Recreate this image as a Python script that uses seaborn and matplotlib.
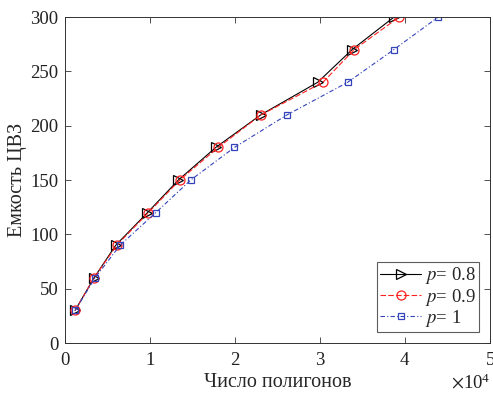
import matplotlib
matplotlib.use("Agg")
import matplotlib.pyplot as plt
import seaborn as sns
import pandas as pd

capacity = [30, 60, 90, 120, 150, 180, 210, 240, 270, 300]
poly_p08 = [1180, 3410, 5960, 9690, 13330, 17730, 23020, 29730, 33760, 38700]
poly_p09 = [1180, 3410, 6080, 9800, 13490, 18000, 23060, 30350, 34000, 39300]
poly_p1 = [1180, 3530, 6470, 10670, 14780, 19920, 26120, 33260, 38670, 43900]
labels = ["$p$= 0.8", "$p$= 0.9", "$p$= 1"]

sns.set_theme(style="ticks")
plt.rcParams['font.family'] = ['Liberation Serif', 'DejaVu Serif']
plt.rcParams['mathtext.fontset'] = 'stix'

fig = plt.figure(figsize=(4.93, 3.97), dpi=100)
ax = fig.add_axes([0.132, 0.136, 0.862, 0.821])

series = [
    (poly_p08, labels[0], "black", "-", ">"),
    (poly_p09, labels[1], "#ff2020", (0, (5, 2)), "o"),
    (poly_p1, labels[2], "#3344bb", (0, (4, 2, 1, 2)), "s"),
]
for xs, lab, col, ls, mk in series:
    df = pd.DataFrame({"x": xs, "y": capacity})
    sns.lineplot(data=df, x="x", y="y", ax=ax, sort=False, color=col,
                 linestyle=ls, linewidth=0.8, marker=mk, markersize=6.5 if mk != "s" else 5,
                 markerfacecolor="none", markeredgecolor=col, markeredgewidth=0.9,
                 label=lab)

ax.set_xlim(0, 50000)
ax.set_ylim(0, 300)
ax.set_xticks([0, 10000, 20000, 30000, 40000, 50000])
ax.set_yticks([0, 50, 100, 150, 200, 250, 300])
ax.ticklabel_format(style='sci', axis='x', scilimits=(0, 0), useMathText=True)
ax.tick_params(direction='in', top=True, right=True, labelsize=13.5, length=4,
               width=0.6, colors='#333333', labelcolor='#222222')
ax.tick_params(axis='x', pad=6.5)
ax.tick_params(axis='y', pad=5)
ax.xaxis.get_offset_text().set_fontsize(13.5)
for s in ax.spines.values():
    s.set_linewidth(0.7)
    s.set_color('#333333')
ax.set_xlabel("Число полигонов", fontsize=14.5, labelpad=3)
ax.set_ylabel("Емкость ЦВЗ", fontsize=14.5, labelpad=2.5)
leg = ax.legend(loc="lower right", fontsize=13.5, frameon=True, fancybox=False,
                edgecolor='#333333', borderpad=0.15, handlelength=2.2,
                handletextpad=0.2, labelspacing=0.02, borderaxespad=0.6)
leg.get_frame().set_linewidth(0.8)

fig.savefig("out.png", dpi=100, facecolor="white")
